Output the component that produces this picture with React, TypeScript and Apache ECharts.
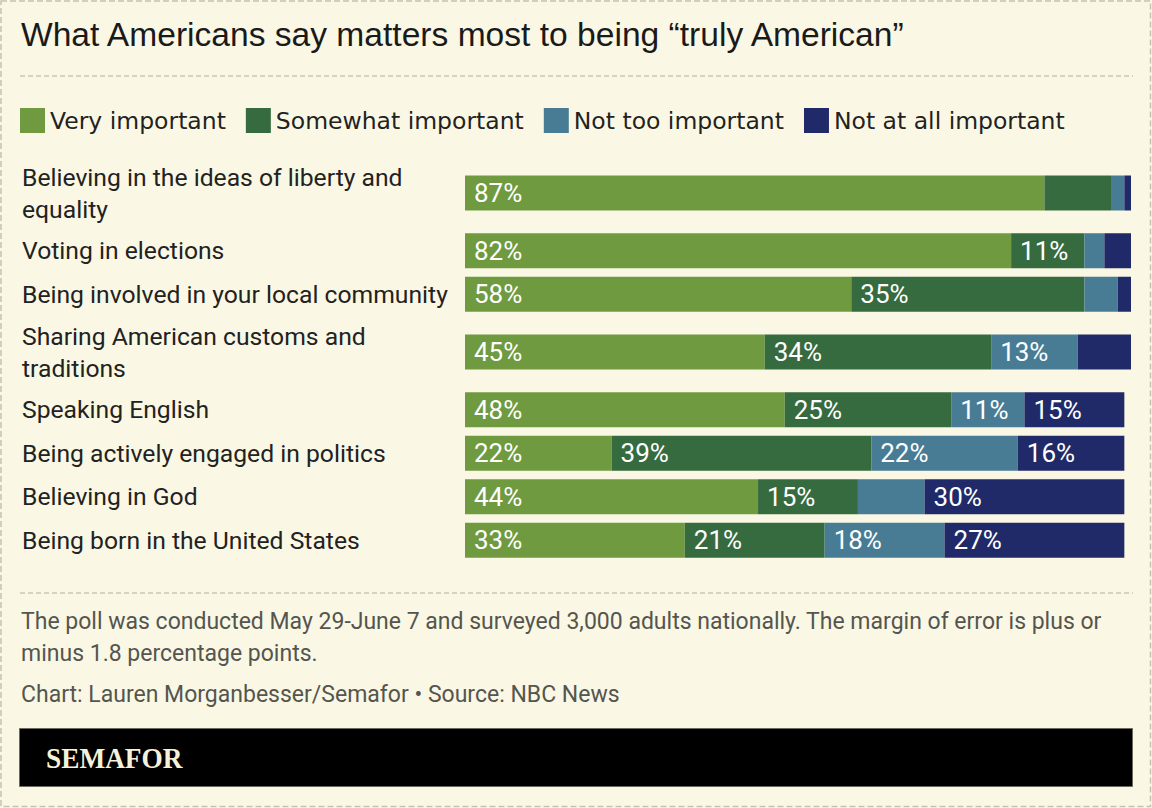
import React, { useEffect, useRef } from "react";
import * as echarts from "echarts";

// Survey statements (line breaks follow the printed wrapping)
const categories = [
  "Believing in the ideas of liberty and\nequality",
  "Voting in elections",
  "Being involved in your local community",
  "Sharing American customs and\ntraditions",
  "Speaking English",
  "Being actively engaged in politics",
  "Believing in God",
  "Being born in the United States",
];

const seriesNames = ["Very important", "Somewhat important", "Not too important", "Not at all important"];

// Share of respondents (%) per statement
const veryImportant = [87, 82, 58, 45, 48, 22, 44, 33];
const somewhatImportant = [10, 11, 35, 34, 25, 39, 15, 21];
const notTooImportant = [2, 3, 5, 13, 11, 22, 10, 18];
const notAtAllImportant = [1, 4, 2, 8, 15, 16, 30, 27];

const seriesValues = [veryImportant, somewhatImportant, notTooImportant, notAtAllImportant];
const seriesColors = ["#6f9a40", "#366b40", "#487c95", "#202a68"];

const titleText = "What Americans say matters most to being \u201ctruly American\u201d";
const noteLines = [
  "The poll was conducted May 29-June 7 and surveyed 3,000 adults nationally. The margin of error is plus or",
  "minus 1.8 percentage points.",
];
const creditText = "Chart: Lauren Morganbesser/Semafor \u2022 Source: NBC News";
const brandText = "SEMAFOR";

const W = 1152;
const H = 808;
const BG = "#faf8e4";
const SANS = "Roboto, 'Noto Sans', sans-serif";

export default function App() {
  const ref = useRef<HTMLDivElement>(null);

  useEffect(() => {
    const chart = echarts.init(ref.current!, null, { renderer: "svg" });

    // Row heights depend on how many lines the statement takes
    const barH = 35;
    const rowTop0 = 157;
    const singleRow = 43.5;
    const doubleRow = 72;
    const centers: number[] = [];
    let y = rowTop0;
    categories.forEach((c) => {
      const h = c.includes("\n") ? doubleRow : singleRow;
      centers.push(y + h / 2);
      y += h;
    });

    const grids = categories.map((_, i) => ({
      left: 465,
      width: 666,
      top: centers[i] - barH / 2,
      height: barH,
    }));
    const xAxes = categories.map((_, i) => ({
      gridIndex: i,
      type: "value",
      min: 0,
      max: 100,
      show: false,
    }));
    const yAxes = categories.map((c, i) => ({
      gridIndex: i,
      type: "category",
      data: [c],
      axisLine: { show: false },
      axisTick: { show: false },
      splitLine: { show: false },
      axisLabel: {
        align: "left",
        verticalAlign: "middle",
        margin: 443,
        fontFamily: SANS,
        fontSize: 24.7,
        lineHeight: 32,
        color: "#222222",
      },
    }));

    const series: any[] = [];
    categories.forEach((_, i) => {
      seriesNames.forEach((name, s) => {
        series.push({
          type: "bar",
          name,
          xAxisIndex: i,
          yAxisIndex: i,
          stack: "row" + i,
          barWidth: barH,
          silent: true,
          itemStyle: { color: seriesColors[s] },
          label: {
            show: true,
            position: "insideLeft",
            distance: 9,
            color: "#ffffff",
            fontFamily: SANS,
            fontSize: 26,
            formatter: (p: any) => (p.value > 10 ? p.value + "%" : ""),
          },
          data: [seriesValues[s][i]],
        });
      });
    });

    const dash = { stroke: "#c9c7b9", lineWidth: 1.5, lineDash: [5, 3] };
    const noteFont = `23px ${SANS}`;

    chart.setOption({
      animation: false,
      backgroundColor: BG,
      title: {
        text: titleText,
        left: 16,
        top: 12,
        textStyle: {
          fontFamily: "'Liberation Sans', Arial, sans-serif",
          fontSize: 33.6,
          fontWeight: "normal",
          color: "#1a1a1a",
        },
      },
      legend: {
        data: seriesNames,
        left: 20,
        top: 108,
        padding: 0,
        itemGap: 20,
        itemWidth: 25,
        itemHeight: 25,
        icon: "rect",
        selectedMode: false,
        textStyle: { fontFamily: "'DejaVu Sans', sans-serif", fontSize: 23.5, color: "#222222" },
      },
      grid: grids,
      xAxis: xAxes,
      yAxis: yAxes,
      series,
      graphic: [
        // outer dashed frame
        {
          type: "rect",
          shape: { x: 1, y: 1, width: W - 2.5, height: H - 2.5 },
          style: { fill: "none", stroke: "#c4c2b4", lineWidth: 1.5, lineDash: [6, 3] },
          silent: true,
        },
        { type: "line", shape: { x1: 20, y1: 76, x2: 1133, y2: 76 }, style: dash, silent: true },
        { type: "line", shape: { x1: 20, y1: 593, x2: 1133, y2: 593 }, style: dash, silent: true },
        ...noteLines.map((t, k) => ({
          type: "text",
          x: 21,
          y: 621 + k * 32,
          style: { text: t, font: noteFont, fill: "#555550", verticalAlign: "middle" },
          silent: true,
        })),
        {
          type: "text",
          x: 21,
          y: 694,
          style: { text: creditText, font: noteFont, fill: "#555550", verticalAlign: "middle" },
          silent: true,
        },
        // brand footer
        {
          type: "rect",
          shape: { x: 19.5, y: 728.5, width: 1113, height: 58 },
          style: { fill: "#000000", stroke: "#6d6b60", lineWidth: 1 },
          silent: true,
        },
        {
          type: "text",
          x: 46,
          y: 758,
          scaleX: 0.91,
          style: {
            text: brandText,
            font: "bold 30px 'Liberation Serif', 'DejaVu Serif', serif",
            fill: "#f6f2da",
            verticalAlign: "middle",
          },
          silent: true,
        },
      ],
    });

    return () => chart.dispose();
  }, []);

  return (
    <div
      ref={ref}
      style={{ position: "absolute", left: 0, top: 0, width: W, height: H }}
    />
  );
}
